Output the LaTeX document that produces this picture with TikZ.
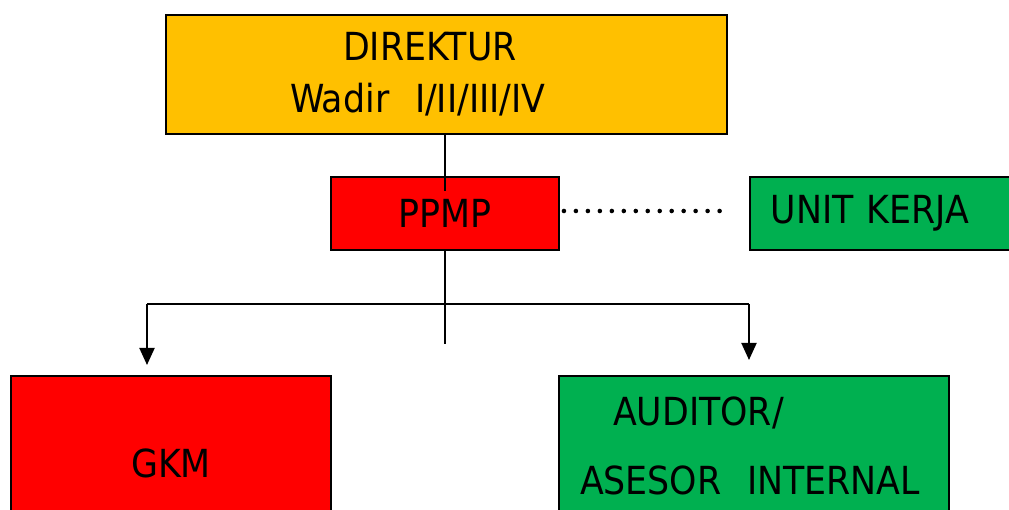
\documentclass[tikz,border=0pt]{standalone}
\usepackage{fontspec}
\setmainfont{DejaVu Sans Condensed}
\usepackage{tikz}
\usetikzlibrary{arrows.meta, positioning, calc}
\definecolor{dirgold}{RGB}{255,192,0}
\definecolor{boxred}{RGB}{255,0,0}
\definecolor{boxgreen}{RGB}{0,176,80}
\tikzset{
  orgbox/.style={rectangle, draw=black, line width=1.1pt, inner ysep=0pt,
    font=\fontsize{22}{29.6}\selectfont, text=black},
  goldbox/.style={orgbox, fill=dirgold},
  redbox/.style={orgbox, fill=boxred},
  greenbox/.style={orgbox, fill=boxgreen},
  conn/.style={line width=1.1pt, color=black},
  connarrow/.style={conn, -{Triangle[length=0.34cm, width=0.3cm]}},
  dotline/.style={line width=2.6pt, dash pattern=on 0pt off 0.2395cm, line cap=round}
}

\begin{document}
\begin{tikzpicture}[x=0.02cm, y=0.02cm]
  % Canvas
  \useasboundingbox (0,0) rectangle (1009,510);
  \clip (0,0) rectangle (1009,510);
  \fill[white] (0,0) rectangle (1009,510);

  % Top: Direktur
  \node[goldbox, minimum width=11.22cm, minimum height=2.38cm, text width=6.26cm,
    inner xsep=2.48cm, align=left] (direktur) at (446.5,435.5)
    {\hspace*{1.06cm}DIREKTUR\\Wadir\ \ I/II/III/IV};

  % Middle row: PPMP and Unit Kerja
  \node[redbox, minimum width=4.56cm, minimum height=1.46cm] (ppmp) at (445,296.5) {PPMP};
  \node[greenbox, anchor=west, minimum width=5.82cm, minimum height=1.46cm, text width=4.98cm,
    inner xsep=0.42cm, align=left] (unit) at (749,296.5) {UNIT KERJA};

  % Bottom row: GKM and Auditor
  \node[redbox, minimum width=6.4cm, minimum height=3.5cm] (gkm) at (171,46.5) {GKM};
  \node[greenbox, minimum width=7.8cm, minimum height=2.8cm, text width=6.96cm,
    inner xsep=0.42cm, align=left, font=\fontsize{22}{39.3}\selectfont] (auditor) at (754,64)
    {\hspace*{0.66cm}AUDITOR/\\ASESOR\ \ INTERNAL};

  % Connector points
  \coordinate (split) at (445,206);
  \coordinate (stemend) at (445,166);
  \coordinate (gkmin) at (147,206);
  \coordinate (gkmtip) at (147,145);
  \coordinate (audin) at (749,206);
  \coordinate (audtip) at (749,150);

  % Connectors
  \draw[conn] (direktur.south -| ppmp.north) -- ([yshift=-0.3cm]ppmp.north);
  \draw[conn] (ppmp.south) -- (stemend);
  \draw[conn] (gkmin) -- (audin);
  \draw[connarrow] (gkmin) -- (gkmtip);
  \draw[connarrow] (audin) -- (audtip);
  \draw[dotline] ([xshift=0.08cm, yshift=0.05cm]ppmp.east) -- ([xshift=-0.36cm, yshift=0.05cm]unit.west);
\end{tikzpicture}
\end{document}
